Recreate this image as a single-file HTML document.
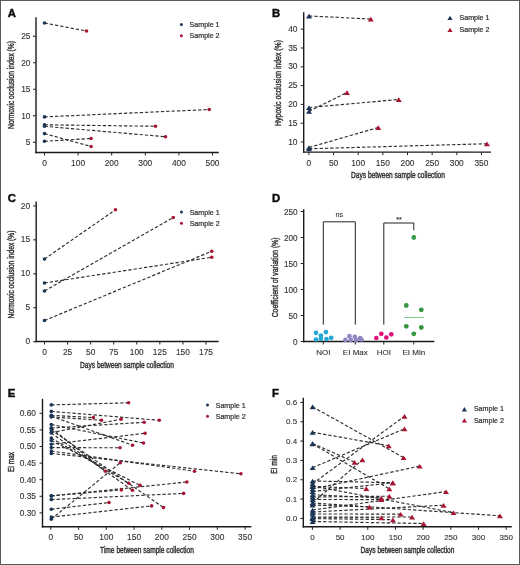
<!DOCTYPE html>
<html><head><meta charset="utf-8"><style>
html,body{margin:0;padding:0;background:#fff;}
body{width:520px;height:565px;overflow:hidden;}
svg{display:block;font-family:"Liberation Sans", sans-serif;}
</style></head><body>
<svg width="520" height="565" viewBox="0 0 520 565">
<defs><filter id="tb" x="-5%" y="-5%" width="110%" height="110%"><feGaussianBlur stdDeviation="0.28"/></filter></defs>
<rect x="0" y="0" width="520" height="565" fill="#fff"/>
<line x1="36.00" y1="17.30" x2="36.00" y2="153.20" stroke="#1a1a1a" stroke-width="1.4" />
<line x1="35.30" y1="152.50" x2="218.80" y2="152.50" stroke="#1a1a1a" stroke-width="1.4" />
<line x1="33.00" y1="142.25" x2="36.00" y2="142.25" stroke="#222" stroke-width="1" />
<line x1="33.00" y1="115.75" x2="36.00" y2="115.75" stroke="#222" stroke-width="1" />
<line x1="33.00" y1="89.25" x2="36.00" y2="89.25" stroke="#222" stroke-width="1" />
<line x1="33.00" y1="62.75" x2="36.00" y2="62.75" stroke="#222" stroke-width="1" />
<line x1="33.00" y1="36.25" x2="36.00" y2="36.25" stroke="#222" stroke-width="1" />
<line x1="44.50" y1="152.50" x2="44.50" y2="155.50" stroke="#222" stroke-width="1" />
<line x1="78.10" y1="152.50" x2="78.10" y2="155.50" stroke="#222" stroke-width="1" />
<line x1="111.70" y1="152.50" x2="111.70" y2="155.50" stroke="#222" stroke-width="1" />
<line x1="145.30" y1="152.50" x2="145.30" y2="155.50" stroke="#222" stroke-width="1" />
<line x1="178.90" y1="152.50" x2="178.90" y2="155.50" stroke="#222" stroke-width="1" />
<line x1="212.50" y1="152.50" x2="212.50" y2="155.50" stroke="#222" stroke-width="1" />
<line x1="44.50" y1="23.00" x2="86.50" y2="31.00" stroke="#2e2e2e" stroke-width="1.15" stroke-dasharray="3.3 2.0"/>
<line x1="44.50" y1="116.90" x2="209.25" y2="109.50" stroke="#2e2e2e" stroke-width="1.15" stroke-dasharray="3.3 2.0"/>
<line x1="44.50" y1="124.80" x2="155.50" y2="126.25" stroke="#2e2e2e" stroke-width="1.15" stroke-dasharray="3.3 2.0"/>
<line x1="44.50" y1="126.30" x2="165.50" y2="136.75" stroke="#2e2e2e" stroke-width="1.15" stroke-dasharray="3.3 2.0"/>
<line x1="44.50" y1="133.60" x2="91.10" y2="146.50" stroke="#2e2e2e" stroke-width="1.15" stroke-dasharray="3.3 2.0"/>
<line x1="44.50" y1="141.30" x2="91.10" y2="138.50" stroke="#2e2e2e" stroke-width="1.15" stroke-dasharray="3.3 2.0"/>
<circle cx="44.50" cy="23.00" r="1.8" fill="#1b3556"/>
<circle cx="86.50" cy="31.00" r="1.8" fill="#a81434"/>
<circle cx="44.50" cy="116.90" r="1.8" fill="#1b3556"/>
<circle cx="209.25" cy="109.50" r="1.8" fill="#a81434"/>
<circle cx="44.50" cy="124.80" r="1.8" fill="#1b3556"/>
<circle cx="155.50" cy="126.25" r="1.8" fill="#a81434"/>
<circle cx="44.50" cy="126.30" r="1.8" fill="#1b3556"/>
<circle cx="165.50" cy="136.75" r="1.8" fill="#a81434"/>
<circle cx="44.50" cy="133.60" r="1.8" fill="#1b3556"/>
<circle cx="91.10" cy="146.50" r="1.8" fill="#a81434"/>
<circle cx="44.50" cy="141.30" r="1.8" fill="#1b3556"/>
<circle cx="91.10" cy="138.50" r="1.8" fill="#a81434"/>
<circle cx="181.40" cy="24.60" r="1.5" fill="#1b3556"/>
<circle cx="181.40" cy="35.70" r="1.5" fill="#a81434"/>
<line x1="303.70" y1="12.20" x2="303.70" y2="152.80" stroke="#1a1a1a" stroke-width="1.4" />
<line x1="303.00" y1="152.10" x2="491.00" y2="152.10" stroke="#1a1a1a" stroke-width="1.4" />
<line x1="300.70" y1="142.00" x2="303.70" y2="142.00" stroke="#222" stroke-width="1" />
<line x1="300.70" y1="123.20" x2="303.70" y2="123.20" stroke="#222" stroke-width="1" />
<line x1="300.70" y1="104.40" x2="303.70" y2="104.40" stroke="#222" stroke-width="1" />
<line x1="300.70" y1="85.60" x2="303.70" y2="85.60" stroke="#222" stroke-width="1" />
<line x1="300.70" y1="66.80" x2="303.70" y2="66.80" stroke="#222" stroke-width="1" />
<line x1="300.70" y1="48.00" x2="303.70" y2="48.00" stroke="#222" stroke-width="1" />
<line x1="300.70" y1="29.20" x2="303.70" y2="29.20" stroke="#222" stroke-width="1" />
<line x1="308.90" y1="152.10" x2="308.90" y2="155.10" stroke="#222" stroke-width="1" />
<line x1="333.55" y1="152.10" x2="333.55" y2="155.10" stroke="#222" stroke-width="1" />
<line x1="358.20" y1="152.10" x2="358.20" y2="155.10" stroke="#222" stroke-width="1" />
<line x1="382.85" y1="152.10" x2="382.85" y2="155.10" stroke="#222" stroke-width="1" />
<line x1="407.50" y1="152.10" x2="407.50" y2="155.10" stroke="#222" stroke-width="1" />
<line x1="432.15" y1="152.10" x2="432.15" y2="155.10" stroke="#222" stroke-width="1" />
<line x1="456.80" y1="152.10" x2="456.80" y2="155.10" stroke="#222" stroke-width="1" />
<line x1="481.45" y1="152.10" x2="481.45" y2="155.10" stroke="#222" stroke-width="1" />
<line x1="309.00" y1="16.00" x2="370.75" y2="19.00" stroke="#2e2e2e" stroke-width="1.15" stroke-dasharray="3.3 2.0"/>
<line x1="309.00" y1="107.50" x2="398.75" y2="99.50" stroke="#2e2e2e" stroke-width="1.15" stroke-dasharray="3.3 2.0"/>
<line x1="309.00" y1="111.25" x2="347.00" y2="92.50" stroke="#2e2e2e" stroke-width="1.15" stroke-dasharray="3.3 2.0"/>
<line x1="309.00" y1="147.50" x2="378.25" y2="127.50" stroke="#2e2e2e" stroke-width="1.15" stroke-dasharray="3.3 2.0"/>
<line x1="309.00" y1="148.75" x2="487.00" y2="143.75" stroke="#2e2e2e" stroke-width="1.15" stroke-dasharray="3.3 2.0"/>
<path d="M309.00 13.80L312.00 18.50L306.00 18.50Z" fill="#1b3556"/>
<path d="M370.75 16.80L373.75 21.50L367.75 21.50Z" fill="#a81434"/>
<path d="M309.00 105.30L312.00 110.00L306.00 110.00Z" fill="#1b3556"/>
<path d="M398.75 97.30L401.75 102.00L395.75 102.00Z" fill="#a81434"/>
<path d="M309.00 109.05L312.00 113.75L306.00 113.75Z" fill="#1b3556"/>
<path d="M347.00 90.30L350.00 95.00L344.00 95.00Z" fill="#a81434"/>
<path d="M309.00 145.30L312.00 150.00L306.00 150.00Z" fill="#1b3556"/>
<path d="M378.25 125.30L381.25 130.00L375.25 130.00Z" fill="#a81434"/>
<path d="M309.00 146.55L312.00 151.25L306.00 151.25Z" fill="#1b3556"/>
<path d="M487.00 141.55L490.00 146.25L484.00 146.25Z" fill="#a81434"/>
<path d="M450.00 15.80L452.60 20.10L447.40 20.10Z" fill="#1b3556"/>
<path d="M450.00 27.80L452.60 32.10L447.40 32.10Z" fill="#a81434"/>
<line x1="36.20" y1="201.50" x2="36.20" y2="342.20" stroke="#1a1a1a" stroke-width="1.4" />
<line x1="35.50" y1="341.50" x2="218.60" y2="341.50" stroke="#1a1a1a" stroke-width="1.4" />
<line x1="33.20" y1="341.70" x2="36.20" y2="341.70" stroke="#222" stroke-width="1" />
<line x1="33.20" y1="307.75" x2="36.20" y2="307.75" stroke="#222" stroke-width="1" />
<line x1="33.20" y1="273.80" x2="36.20" y2="273.80" stroke="#222" stroke-width="1" />
<line x1="33.20" y1="239.85" x2="36.20" y2="239.85" stroke="#222" stroke-width="1" />
<line x1="33.20" y1="205.90" x2="36.20" y2="205.90" stroke="#222" stroke-width="1" />
<line x1="44.50" y1="341.50" x2="44.50" y2="344.50" stroke="#222" stroke-width="1" />
<line x1="67.57" y1="341.50" x2="67.57" y2="344.50" stroke="#222" stroke-width="1" />
<line x1="90.64" y1="341.50" x2="90.64" y2="344.50" stroke="#222" stroke-width="1" />
<line x1="113.71" y1="341.50" x2="113.71" y2="344.50" stroke="#222" stroke-width="1" />
<line x1="136.78" y1="341.50" x2="136.78" y2="344.50" stroke="#222" stroke-width="1" />
<line x1="159.85" y1="341.50" x2="159.85" y2="344.50" stroke="#222" stroke-width="1" />
<line x1="182.92" y1="341.50" x2="182.92" y2="344.50" stroke="#222" stroke-width="1" />
<line x1="205.99" y1="341.50" x2="205.99" y2="344.50" stroke="#222" stroke-width="1" />
<line x1="44.50" y1="259.00" x2="115.50" y2="209.75" stroke="#2e2e2e" stroke-width="1.15" stroke-dasharray="3.3 2.0"/>
<line x1="44.50" y1="291.00" x2="173.25" y2="217.50" stroke="#2e2e2e" stroke-width="1.15" stroke-dasharray="3.3 2.0"/>
<line x1="44.50" y1="283.00" x2="211.75" y2="257.25" stroke="#2e2e2e" stroke-width="1.15" stroke-dasharray="3.3 2.0"/>
<line x1="44.50" y1="320.50" x2="211.75" y2="251.25" stroke="#2e2e2e" stroke-width="1.15" stroke-dasharray="3.3 2.0"/>
<circle cx="44.50" cy="259.00" r="1.8" fill="#1b3556"/>
<circle cx="115.50" cy="209.75" r="1.8" fill="#a81434"/>
<circle cx="44.50" cy="291.00" r="1.8" fill="#1b3556"/>
<circle cx="173.25" cy="217.50" r="1.8" fill="#a81434"/>
<circle cx="44.50" cy="283.00" r="1.8" fill="#1b3556"/>
<circle cx="211.75" cy="257.25" r="1.8" fill="#a81434"/>
<circle cx="44.50" cy="320.50" r="1.8" fill="#1b3556"/>
<circle cx="211.75" cy="251.25" r="1.8" fill="#a81434"/>
<circle cx="181.45" cy="212.00" r="1.5" fill="#1b3556"/>
<circle cx="181.45" cy="223.25" r="1.5" fill="#a81434"/>
<line x1="303.70" y1="209.30" x2="303.70" y2="342.20" stroke="#1a1a1a" stroke-width="1.4" />
<line x1="303.00" y1="341.50" x2="434.30" y2="341.50" stroke="#1a1a1a" stroke-width="1.4" />
<line x1="300.70" y1="341.50" x2="303.70" y2="341.50" stroke="#222" stroke-width="1" />
<line x1="300.70" y1="315.50" x2="303.70" y2="315.50" stroke="#222" stroke-width="1" />
<line x1="300.70" y1="289.50" x2="303.70" y2="289.50" stroke="#222" stroke-width="1" />
<line x1="300.70" y1="263.50" x2="303.70" y2="263.50" stroke="#222" stroke-width="1" />
<line x1="300.70" y1="237.50" x2="303.70" y2="237.50" stroke="#222" stroke-width="1" />
<line x1="300.70" y1="211.50" x2="303.70" y2="211.50" stroke="#222" stroke-width="1" />
<line x1="323.30" y1="341.50" x2="323.30" y2="344.50" stroke="#222" stroke-width="1" />
<line x1="355.30" y1="341.50" x2="355.30" y2="344.50" stroke="#222" stroke-width="1" />
<line x1="383.80" y1="341.50" x2="383.80" y2="344.50" stroke="#222" stroke-width="1" />
<line x1="413.80" y1="341.50" x2="413.80" y2="344.50" stroke="#222" stroke-width="1" />
<path d="M323.3 324.6V221.8H355.3V324.6" fill="none" stroke="#222" stroke-width="1.0"/>
<path d="M383.8 324.6V223H413.8V230.3" fill="none" stroke="#222" stroke-width="1.0"/>
<circle cx="316.00" cy="332.80" r="2.35" fill="#22a7d6"/>
<circle cx="320.90" cy="335.50" r="2.35" fill="#22a7d6"/>
<circle cx="325.90" cy="332.10" r="2.35" fill="#22a7d6"/>
<circle cx="316.00" cy="339.50" r="2.35" fill="#22a7d6"/>
<circle cx="320.90" cy="338.80" r="2.35" fill="#22a7d6"/>
<circle cx="326.50" cy="339.10" r="2.35" fill="#22a7d6"/>
<circle cx="331.20" cy="337.80" r="2.35" fill="#22a7d6"/>
<circle cx="349.40" cy="336.20" r="2.35" fill="#8f86c2"/>
<circle cx="354.80" cy="336.80" r="2.35" fill="#8f86c2"/>
<circle cx="360.20" cy="338.20" r="2.35" fill="#8f86c2"/>
<circle cx="345.40" cy="339.90" r="2.35" fill="#8f86c2"/>
<circle cx="350.80" cy="339.90" r="2.35" fill="#8f86c2"/>
<circle cx="356.10" cy="340.20" r="2.35" fill="#8f86c2"/>
<circle cx="361.50" cy="339.50" r="2.35" fill="#8f86c2"/>
<circle cx="376.30" cy="338.00" r="2.35" fill="#e0127a"/>
<circle cx="381.30" cy="333.80" r="2.35" fill="#e0127a"/>
<circle cx="386.30" cy="337.50" r="2.35" fill="#e0127a"/>
<circle cx="391.30" cy="334.30" r="2.35" fill="#e0127a"/>
<circle cx="406.30" cy="305.50" r="2.4" fill="#34973f"/>
<circle cx="421.30" cy="309.80" r="2.4" fill="#34973f"/>
<circle cx="406.30" cy="326.30" r="2.4" fill="#34973f"/>
<circle cx="421.30" cy="327.50" r="2.4" fill="#34973f"/>
<circle cx="413.80" cy="333.80" r="2.4" fill="#34973f"/>
<line x1="404.30" y1="317.50" x2="423.80" y2="317.50" stroke="#7cc88a" stroke-width="1" />
<circle cx="413.8" cy="237.5" r="2.4" fill="#3a9e48"/>
<line x1="42.50" y1="398.80" x2="42.50" y2="527.50" stroke="#1a1a1a" stroke-width="1.4" />
<line x1="41.80" y1="526.80" x2="251.30" y2="526.80" stroke="#1a1a1a" stroke-width="1.4" />
<line x1="39.50" y1="512.90" x2="42.50" y2="512.90" stroke="#222" stroke-width="1" />
<line x1="39.50" y1="496.30" x2="42.50" y2="496.30" stroke="#222" stroke-width="1" />
<line x1="39.50" y1="479.70" x2="42.50" y2="479.70" stroke="#222" stroke-width="1" />
<line x1="39.50" y1="463.10" x2="42.50" y2="463.10" stroke="#222" stroke-width="1" />
<line x1="39.50" y1="446.50" x2="42.50" y2="446.50" stroke="#222" stroke-width="1" />
<line x1="39.50" y1="429.90" x2="42.50" y2="429.90" stroke="#222" stroke-width="1" />
<line x1="39.50" y1="413.30" x2="42.50" y2="413.30" stroke="#222" stroke-width="1" />
<line x1="50.80" y1="526.80" x2="50.80" y2="529.80" stroke="#222" stroke-width="1" />
<line x1="78.56" y1="526.80" x2="78.56" y2="529.80" stroke="#222" stroke-width="1" />
<line x1="106.31" y1="526.80" x2="106.31" y2="529.80" stroke="#222" stroke-width="1" />
<line x1="134.06" y1="526.80" x2="134.06" y2="529.80" stroke="#222" stroke-width="1" />
<line x1="161.82" y1="526.80" x2="161.82" y2="529.80" stroke="#222" stroke-width="1" />
<line x1="189.57" y1="526.80" x2="189.57" y2="529.80" stroke="#222" stroke-width="1" />
<line x1="217.33" y1="526.80" x2="217.33" y2="529.80" stroke="#222" stroke-width="1" />
<line x1="245.09" y1="526.80" x2="245.09" y2="529.80" stroke="#222" stroke-width="1" />
<line x1="51.30" y1="404.90" x2="128.60" y2="402.80" stroke="#2e2e2e" stroke-width="1.15" stroke-dasharray="3.3 2.0"/>
<line x1="51.30" y1="411.40" x2="159.30" y2="420.30" stroke="#2e2e2e" stroke-width="1.15" stroke-dasharray="3.3 2.0"/>
<line x1="51.30" y1="415.30" x2="93.40" y2="417.60" stroke="#2e2e2e" stroke-width="1.15" stroke-dasharray="3.3 2.0"/>
<line x1="51.30" y1="416.90" x2="101.50" y2="420.30" stroke="#2e2e2e" stroke-width="1.15" stroke-dasharray="3.3 2.0"/>
<line x1="51.30" y1="416.20" x2="132.50" y2="445.20" stroke="#2e2e2e" stroke-width="1.15" stroke-dasharray="3.3 2.0"/>
<line x1="51.30" y1="424.50" x2="143.50" y2="443.00" stroke="#2e2e2e" stroke-width="1.15" stroke-dasharray="3.3 2.0"/>
<line x1="51.30" y1="432.60" x2="121.10" y2="419.20" stroke="#2e2e2e" stroke-width="1.15" stroke-dasharray="3.3 2.0"/>
<line x1="51.30" y1="428.00" x2="144.20" y2="422.30" stroke="#2e2e2e" stroke-width="1.15" stroke-dasharray="3.3 2.0"/>
<line x1="51.30" y1="444.20" x2="145.00" y2="433.30" stroke="#2e2e2e" stroke-width="1.15" stroke-dasharray="3.3 2.0"/>
<line x1="51.30" y1="447.60" x2="120.00" y2="447.80" stroke="#2e2e2e" stroke-width="1.15" stroke-dasharray="3.3 2.0"/>
<line x1="51.30" y1="453.40" x2="240.90" y2="473.80" stroke="#2e2e2e" stroke-width="1.15" stroke-dasharray="3.3 2.0"/>
<line x1="51.30" y1="451.00" x2="194.50" y2="471.20" stroke="#2e2e2e" stroke-width="1.15" stroke-dasharray="3.3 2.0"/>
<line x1="51.30" y1="428.00" x2="105.40" y2="471.30" stroke="#2e2e2e" stroke-width="1.15" stroke-dasharray="3.3 2.0"/>
<line x1="51.30" y1="430.00" x2="163.50" y2="507.50" stroke="#2e2e2e" stroke-width="1.15" stroke-dasharray="3.3 2.0"/>
<line x1="51.30" y1="433.00" x2="132.50" y2="490.30" stroke="#2e2e2e" stroke-width="1.15" stroke-dasharray="3.3 2.0"/>
<line x1="51.30" y1="438.00" x2="128.80" y2="483.30" stroke="#2e2e2e" stroke-width="1.15" stroke-dasharray="3.3 2.0"/>
<line x1="51.30" y1="440.50" x2="140.10" y2="485.40" stroke="#2e2e2e" stroke-width="1.15" stroke-dasharray="3.3 2.0"/>
<line x1="51.30" y1="495.90" x2="121.30" y2="489.90" stroke="#2e2e2e" stroke-width="1.15" stroke-dasharray="3.3 2.0"/>
<line x1="51.30" y1="495.90" x2="186.90" y2="482.00" stroke="#2e2e2e" stroke-width="1.15" stroke-dasharray="3.3 2.0"/>
<line x1="51.30" y1="499.60" x2="183.60" y2="493.40" stroke="#2e2e2e" stroke-width="1.15" stroke-dasharray="3.3 2.0"/>
<line x1="51.30" y1="509.20" x2="109.00" y2="502.50" stroke="#2e2e2e" stroke-width="1.15" stroke-dasharray="3.3 2.0"/>
<line x1="51.30" y1="517.10" x2="151.60" y2="505.90" stroke="#2e2e2e" stroke-width="1.15" stroke-dasharray="3.3 2.0"/>
<line x1="51.30" y1="519.20" x2="120.30" y2="462.70" stroke="#2e2e2e" stroke-width="1.15" stroke-dasharray="3.3 2.0"/>
<circle cx="51.30" cy="404.90" r="1.8" fill="#1b3556"/>
<circle cx="128.60" cy="402.80" r="1.8" fill="#a81434"/>
<circle cx="51.30" cy="411.40" r="1.8" fill="#1b3556"/>
<circle cx="159.30" cy="420.30" r="1.8" fill="#a81434"/>
<circle cx="51.30" cy="415.30" r="1.8" fill="#1b3556"/>
<circle cx="93.40" cy="417.60" r="1.8" fill="#a81434"/>
<circle cx="51.30" cy="416.90" r="1.8" fill="#1b3556"/>
<circle cx="101.50" cy="420.30" r="1.8" fill="#a81434"/>
<circle cx="51.30" cy="416.20" r="1.8" fill="#1b3556"/>
<circle cx="132.50" cy="445.20" r="1.8" fill="#a81434"/>
<circle cx="51.30" cy="424.50" r="1.8" fill="#1b3556"/>
<circle cx="143.50" cy="443.00" r="1.8" fill="#a81434"/>
<circle cx="51.30" cy="432.60" r="1.8" fill="#1b3556"/>
<circle cx="121.10" cy="419.20" r="1.8" fill="#a81434"/>
<circle cx="51.30" cy="428.00" r="1.8" fill="#1b3556"/>
<circle cx="144.20" cy="422.30" r="1.8" fill="#a81434"/>
<circle cx="51.30" cy="444.20" r="1.8" fill="#1b3556"/>
<circle cx="145.00" cy="433.30" r="1.8" fill="#a81434"/>
<circle cx="51.30" cy="447.60" r="1.8" fill="#1b3556"/>
<circle cx="120.00" cy="447.80" r="1.8" fill="#a81434"/>
<circle cx="51.30" cy="453.40" r="1.8" fill="#1b3556"/>
<circle cx="240.90" cy="473.80" r="1.8" fill="#a81434"/>
<circle cx="51.30" cy="451.00" r="1.8" fill="#1b3556"/>
<circle cx="194.50" cy="471.20" r="1.8" fill="#a81434"/>
<circle cx="51.30" cy="428.00" r="1.8" fill="#1b3556"/>
<circle cx="105.40" cy="471.30" r="1.8" fill="#a81434"/>
<circle cx="51.30" cy="430.00" r="1.8" fill="#1b3556"/>
<circle cx="163.50" cy="507.50" r="1.8" fill="#a81434"/>
<circle cx="51.30" cy="433.00" r="1.8" fill="#1b3556"/>
<circle cx="132.50" cy="490.30" r="1.8" fill="#a81434"/>
<circle cx="51.30" cy="438.00" r="1.8" fill="#1b3556"/>
<circle cx="128.80" cy="483.30" r="1.8" fill="#a81434"/>
<circle cx="51.30" cy="440.50" r="1.8" fill="#1b3556"/>
<circle cx="140.10" cy="485.40" r="1.8" fill="#a81434"/>
<circle cx="51.30" cy="495.90" r="1.8" fill="#1b3556"/>
<circle cx="121.30" cy="489.90" r="1.8" fill="#a81434"/>
<circle cx="51.30" cy="495.90" r="1.8" fill="#1b3556"/>
<circle cx="186.90" cy="482.00" r="1.8" fill="#a81434"/>
<circle cx="51.30" cy="499.60" r="1.8" fill="#1b3556"/>
<circle cx="183.60" cy="493.40" r="1.8" fill="#a81434"/>
<circle cx="51.30" cy="509.20" r="1.8" fill="#1b3556"/>
<circle cx="109.00" cy="502.50" r="1.8" fill="#a81434"/>
<circle cx="51.30" cy="517.10" r="1.8" fill="#1b3556"/>
<circle cx="151.60" cy="505.90" r="1.8" fill="#a81434"/>
<circle cx="51.30" cy="519.20" r="1.8" fill="#1b3556"/>
<circle cx="120.30" cy="462.70" r="1.8" fill="#a81434"/>
<circle cx="207.50" cy="405.10" r="1.5" fill="#1b3556"/>
<circle cx="207.50" cy="416.20" r="1.5" fill="#a81434"/>
<line x1="303.30" y1="397.70" x2="303.30" y2="527.50" stroke="#1a1a1a" stroke-width="1.4" />
<line x1="302.60" y1="526.80" x2="511.80" y2="526.80" stroke="#1a1a1a" stroke-width="1.4" />
<line x1="300.30" y1="518.40" x2="303.30" y2="518.40" stroke="#222" stroke-width="1" />
<line x1="300.30" y1="499.07" x2="303.30" y2="499.07" stroke="#222" stroke-width="1" />
<line x1="300.30" y1="479.74" x2="303.30" y2="479.74" stroke="#222" stroke-width="1" />
<line x1="300.30" y1="460.41" x2="303.30" y2="460.41" stroke="#222" stroke-width="1" />
<line x1="300.30" y1="441.08" x2="303.30" y2="441.08" stroke="#222" stroke-width="1" />
<line x1="300.30" y1="421.75" x2="303.30" y2="421.75" stroke="#222" stroke-width="1" />
<line x1="300.30" y1="402.42" x2="303.30" y2="402.42" stroke="#222" stroke-width="1" />
<line x1="312.40" y1="526.80" x2="312.40" y2="529.80" stroke="#222" stroke-width="1" />
<line x1="340.08" y1="526.80" x2="340.08" y2="529.80" stroke="#222" stroke-width="1" />
<line x1="367.77" y1="526.80" x2="367.77" y2="529.80" stroke="#222" stroke-width="1" />
<line x1="395.45" y1="526.80" x2="395.45" y2="529.80" stroke="#222" stroke-width="1" />
<line x1="423.14" y1="526.80" x2="423.14" y2="529.80" stroke="#222" stroke-width="1" />
<line x1="450.82" y1="526.80" x2="450.82" y2="529.80" stroke="#222" stroke-width="1" />
<line x1="478.51" y1="526.80" x2="478.51" y2="529.80" stroke="#222" stroke-width="1" />
<line x1="506.19" y1="526.80" x2="506.19" y2="529.80" stroke="#222" stroke-width="1" />
<line x1="312.60" y1="483.70" x2="404.50" y2="416.20" stroke="#2e2e2e" stroke-width="1.15" stroke-dasharray="3.3 2.0"/>
<line x1="312.60" y1="467.60" x2="404.50" y2="428.80" stroke="#2e2e2e" stroke-width="1.15" stroke-dasharray="3.3 2.0"/>
<line x1="312.60" y1="432.20" x2="388.80" y2="445.80" stroke="#2e2e2e" stroke-width="1.15" stroke-dasharray="3.3 2.0"/>
<line x1="312.60" y1="406.80" x2="403.60" y2="457.60" stroke="#2e2e2e" stroke-width="1.15" stroke-dasharray="3.3 2.0"/>
<line x1="312.60" y1="443.40" x2="354.60" y2="462.20" stroke="#2e2e2e" stroke-width="1.15" stroke-dasharray="3.3 2.0"/>
<line x1="312.60" y1="502.90" x2="362.40" y2="459.80" stroke="#2e2e2e" stroke-width="1.15" stroke-dasharray="3.3 2.0"/>
<line x1="312.60" y1="489.00" x2="419.70" y2="466.10" stroke="#2e2e2e" stroke-width="1.15" stroke-dasharray="3.3 2.0"/>
<line x1="312.60" y1="486.50" x2="366.30" y2="488.50" stroke="#2e2e2e" stroke-width="1.15" stroke-dasharray="3.3 2.0"/>
<line x1="312.60" y1="443.80" x2="389.30" y2="488.80" stroke="#2e2e2e" stroke-width="1.15" stroke-dasharray="3.3 2.0"/>
<line x1="312.60" y1="481.00" x2="392.80" y2="482.70" stroke="#2e2e2e" stroke-width="1.15" stroke-dasharray="3.3 2.0"/>
<line x1="312.60" y1="494.80" x2="381.20" y2="498.00" stroke="#2e2e2e" stroke-width="1.15" stroke-dasharray="3.3 2.0"/>
<line x1="312.60" y1="499.50" x2="381.40" y2="499.60" stroke="#2e2e2e" stroke-width="1.15" stroke-dasharray="3.3 2.0"/>
<line x1="312.60" y1="497.00" x2="389.40" y2="496.20" stroke="#2e2e2e" stroke-width="1.15" stroke-dasharray="3.3 2.0"/>
<line x1="312.60" y1="510.00" x2="446.00" y2="491.60" stroke="#2e2e2e" stroke-width="1.15" stroke-dasharray="3.3 2.0"/>
<line x1="312.60" y1="505.00" x2="369.50" y2="507.00" stroke="#2e2e2e" stroke-width="1.15" stroke-dasharray="3.3 2.0"/>
<line x1="312.60" y1="512.00" x2="443.60" y2="505.20" stroke="#2e2e2e" stroke-width="1.15" stroke-dasharray="3.3 2.0"/>
<line x1="312.60" y1="517.70" x2="381.40" y2="517.70" stroke="#2e2e2e" stroke-width="1.15" stroke-dasharray="3.3 2.0"/>
<line x1="312.60" y1="518.60" x2="392.90" y2="519.70" stroke="#2e2e2e" stroke-width="1.15" stroke-dasharray="3.3 2.0"/>
<line x1="312.60" y1="514.00" x2="400.70" y2="514.10" stroke="#2e2e2e" stroke-width="1.15" stroke-dasharray="3.3 2.0"/>
<line x1="312.60" y1="517.00" x2="412.10" y2="517.00" stroke="#2e2e2e" stroke-width="1.15" stroke-dasharray="3.3 2.0"/>
<line x1="312.60" y1="486.00" x2="453.50" y2="512.60" stroke="#2e2e2e" stroke-width="1.15" stroke-dasharray="3.3 2.0"/>
<line x1="312.60" y1="503.00" x2="500.00" y2="515.80" stroke="#2e2e2e" stroke-width="1.15" stroke-dasharray="3.3 2.0"/>
<line x1="312.60" y1="521.50" x2="423.60" y2="523.50" stroke="#2e2e2e" stroke-width="1.15" stroke-dasharray="3.3 2.0"/>
<line x1="312.60" y1="491.50" x2="392.80" y2="482.70" stroke="#2e2e2e" stroke-width="1.15" stroke-dasharray="3.3 2.0"/>
<path d="M312.60 481.50L315.60 486.20L309.60 486.20Z" fill="#1b3556"/>
<path d="M404.50 414.00L407.50 418.70L401.50 418.70Z" fill="#a81434"/>
<path d="M312.60 465.40L315.60 470.10L309.60 470.10Z" fill="#1b3556"/>
<path d="M404.50 426.60L407.50 431.30L401.50 431.30Z" fill="#a81434"/>
<path d="M312.60 430.00L315.60 434.70L309.60 434.70Z" fill="#1b3556"/>
<path d="M388.80 443.60L391.80 448.30L385.80 448.30Z" fill="#a81434"/>
<path d="M312.60 404.60L315.60 409.30L309.60 409.30Z" fill="#1b3556"/>
<path d="M403.60 455.40L406.60 460.10L400.60 460.10Z" fill="#a81434"/>
<path d="M312.60 441.20L315.60 445.90L309.60 445.90Z" fill="#1b3556"/>
<path d="M354.60 460.00L357.60 464.70L351.60 464.70Z" fill="#a81434"/>
<path d="M312.60 500.70L315.60 505.40L309.60 505.40Z" fill="#1b3556"/>
<path d="M362.40 457.60L365.40 462.30L359.40 462.30Z" fill="#a81434"/>
<path d="M312.60 486.80L315.60 491.50L309.60 491.50Z" fill="#1b3556"/>
<path d="M419.70 463.90L422.70 468.60L416.70 468.60Z" fill="#a81434"/>
<path d="M312.60 484.30L315.60 489.00L309.60 489.00Z" fill="#1b3556"/>
<path d="M366.30 486.30L369.30 491.00L363.30 491.00Z" fill="#a81434"/>
<path d="M312.60 441.60L315.60 446.30L309.60 446.30Z" fill="#1b3556"/>
<path d="M389.30 486.60L392.30 491.30L386.30 491.30Z" fill="#a81434"/>
<path d="M312.60 478.80L315.60 483.50L309.60 483.50Z" fill="#1b3556"/>
<path d="M392.80 480.50L395.80 485.20L389.80 485.20Z" fill="#a81434"/>
<path d="M312.60 492.60L315.60 497.30L309.60 497.30Z" fill="#1b3556"/>
<path d="M381.20 495.80L384.20 500.50L378.20 500.50Z" fill="#a81434"/>
<path d="M312.60 497.30L315.60 502.00L309.60 502.00Z" fill="#1b3556"/>
<path d="M381.40 497.40L384.40 502.10L378.40 502.10Z" fill="#a81434"/>
<path d="M312.60 494.80L315.60 499.50L309.60 499.50Z" fill="#1b3556"/>
<path d="M389.40 494.00L392.40 498.70L386.40 498.70Z" fill="#a81434"/>
<path d="M312.60 507.80L315.60 512.50L309.60 512.50Z" fill="#1b3556"/>
<path d="M446.00 489.40L449.00 494.10L443.00 494.10Z" fill="#a81434"/>
<path d="M312.60 502.80L315.60 507.50L309.60 507.50Z" fill="#1b3556"/>
<path d="M369.50 504.80L372.50 509.50L366.50 509.50Z" fill="#a81434"/>
<path d="M312.60 509.80L315.60 514.50L309.60 514.50Z" fill="#1b3556"/>
<path d="M443.60 503.00L446.60 507.70L440.60 507.70Z" fill="#a81434"/>
<path d="M312.60 515.50L315.60 520.20L309.60 520.20Z" fill="#1b3556"/>
<path d="M381.40 515.50L384.40 520.20L378.40 520.20Z" fill="#a81434"/>
<path d="M312.60 516.40L315.60 521.10L309.60 521.10Z" fill="#1b3556"/>
<path d="M392.90 517.50L395.90 522.20L389.90 522.20Z" fill="#a81434"/>
<path d="M312.60 511.80L315.60 516.50L309.60 516.50Z" fill="#1b3556"/>
<path d="M400.70 511.90L403.70 516.60L397.70 516.60Z" fill="#a81434"/>
<path d="M312.60 514.80L315.60 519.50L309.60 519.50Z" fill="#1b3556"/>
<path d="M412.10 514.80L415.10 519.50L409.10 519.50Z" fill="#a81434"/>
<path d="M312.60 483.80L315.60 488.50L309.60 488.50Z" fill="#1b3556"/>
<path d="M453.50 510.40L456.50 515.10L450.50 515.10Z" fill="#a81434"/>
<path d="M312.60 500.80L315.60 505.50L309.60 505.50Z" fill="#1b3556"/>
<path d="M500.00 513.60L503.00 518.30L497.00 518.30Z" fill="#a81434"/>
<path d="M312.60 519.30L315.60 524.00L309.60 524.00Z" fill="#1b3556"/>
<path d="M423.60 521.30L426.60 526.00L420.60 526.00Z" fill="#a81434"/>
<path d="M312.60 489.30L315.60 494.00L309.60 494.00Z" fill="#1b3556"/>
<path d="M392.80 480.50L395.80 485.20L389.80 485.20Z" fill="#a81434"/>
<path d="M464.40 407.10L467.00 411.40L461.80 411.40Z" fill="#1b3556"/>
<path d="M464.40 418.30L467.00 422.60L461.80 422.60Z" fill="#a81434"/>
<g filter="url(#tb)">
<text x="7.70" y="16.90" font-size="11.3" text-anchor="start" font-weight="bold" fill="#111" stroke="#111" stroke-width="0.45" >A</text>
<text x="30.50" y="145.45" font-size="8.4" text-anchor="end" font-weight="normal" fill="#333" stroke="#333" stroke-width="0.12" >5</text>
<text x="30.50" y="118.95" font-size="8.4" text-anchor="end" font-weight="normal" fill="#333" stroke="#333" stroke-width="0.12" >10</text>
<text x="30.50" y="92.45" font-size="8.4" text-anchor="end" font-weight="normal" fill="#333" stroke="#333" stroke-width="0.12" >15</text>
<text x="30.50" y="65.95" font-size="8.4" text-anchor="end" font-weight="normal" fill="#333" stroke="#333" stroke-width="0.12" >20</text>
<text x="30.50" y="39.45" font-size="8.4" text-anchor="end" font-weight="normal" fill="#333" stroke="#333" stroke-width="0.12" >25</text>
<text x="44.50" y="166.00" font-size="8.4" text-anchor="middle" font-weight="normal" fill="#333" stroke="#333" stroke-width="0.12" >0</text>
<text x="78.10" y="166.00" font-size="8.4" text-anchor="middle" font-weight="normal" fill="#333" stroke="#333" stroke-width="0.12" >100</text>
<text x="111.70" y="166.00" font-size="8.4" text-anchor="middle" font-weight="normal" fill="#333" stroke="#333" stroke-width="0.12" >200</text>
<text x="145.30" y="166.00" font-size="8.4" text-anchor="middle" font-weight="normal" fill="#333" stroke="#333" stroke-width="0.12" >300</text>
<text x="178.90" y="166.00" font-size="8.4" text-anchor="middle" font-weight="normal" fill="#333" stroke="#333" stroke-width="0.12" >400</text>
<text x="212.50" y="166.00" font-size="8.4" text-anchor="middle" font-weight="normal" fill="#333" stroke="#333" stroke-width="0.12" >500</text>
<text transform="translate(13.70 85.00) rotate(-90) scale(0.7507 1)" x="0" y="0" font-size="8.9" text-anchor="middle" fill="#333" stroke="#333" stroke-width="0.42">Normoxic occlusion index (%)</text>
<text x="189.60" y="27.20" font-size="7.1" text-anchor="start" font-weight="normal" fill="#333" stroke="#333" stroke-width="0.22" >Sample 1</text>
<text x="189.60" y="38.30" font-size="7.1" text-anchor="start" font-weight="normal" fill="#333" stroke="#333" stroke-width="0.22" >Sample 2</text>
<text x="272.00" y="16.90" font-size="11.3" text-anchor="start" font-weight="bold" fill="#111" stroke="#111" stroke-width="0.45" >B</text>
<text x="297.50" y="144.60" font-size="8.4" text-anchor="end" font-weight="normal" fill="#333" stroke="#333" stroke-width="0.12" >10</text>
<text x="297.50" y="125.80" font-size="8.4" text-anchor="end" font-weight="normal" fill="#333" stroke="#333" stroke-width="0.12" >15</text>
<text x="297.50" y="107.00" font-size="8.4" text-anchor="end" font-weight="normal" fill="#333" stroke="#333" stroke-width="0.12" >20</text>
<text x="297.50" y="88.20" font-size="8.4" text-anchor="end" font-weight="normal" fill="#333" stroke="#333" stroke-width="0.12" >25</text>
<text x="297.50" y="69.40" font-size="8.4" text-anchor="end" font-weight="normal" fill="#333" stroke="#333" stroke-width="0.12" >30</text>
<text x="297.50" y="50.60" font-size="8.4" text-anchor="end" font-weight="normal" fill="#333" stroke="#333" stroke-width="0.12" >35</text>
<text x="297.50" y="31.80" font-size="8.4" text-anchor="end" font-weight="normal" fill="#333" stroke="#333" stroke-width="0.12" >40</text>
<text x="308.90" y="165.60" font-size="8.4" text-anchor="middle" font-weight="normal" fill="#333" stroke="#333" stroke-width="0.12" >0</text>
<text x="333.55" y="165.60" font-size="8.4" text-anchor="middle" font-weight="normal" fill="#333" stroke="#333" stroke-width="0.12" >50</text>
<text x="358.20" y="165.60" font-size="8.4" text-anchor="middle" font-weight="normal" fill="#333" stroke="#333" stroke-width="0.12" >100</text>
<text x="382.85" y="165.60" font-size="8.4" text-anchor="middle" font-weight="normal" fill="#333" stroke="#333" stroke-width="0.12" >150</text>
<text x="407.50" y="165.60" font-size="8.4" text-anchor="middle" font-weight="normal" fill="#333" stroke="#333" stroke-width="0.12" >200</text>
<text x="432.15" y="165.60" font-size="8.4" text-anchor="middle" font-weight="normal" fill="#333" stroke="#333" stroke-width="0.12" >250</text>
<text x="456.80" y="165.60" font-size="8.4" text-anchor="middle" font-weight="normal" fill="#333" stroke="#333" stroke-width="0.12" >300</text>
<text x="481.45" y="165.60" font-size="8.4" text-anchor="middle" font-weight="normal" fill="#333" stroke="#333" stroke-width="0.12" >350</text>
<text transform="translate(281.10 83.00) rotate(-90) scale(0.7727 1)" x="0" y="0" font-size="8.9" text-anchor="middle" fill="#333" stroke="#333" stroke-width="0.42">Hypoxic occlusion index (%)</text>
<text transform="translate(398.00 177.50) scale(0.7393 1)" x="0" y="0" font-size="8.9" text-anchor="middle" fill="#333" stroke="#333" stroke-width="0.42">Days between sample collection</text>
<text x="459.50" y="20.00" font-size="7.1" text-anchor="start" font-weight="normal" fill="#333" stroke="#333" stroke-width="0.22" >Sample 1</text>
<text x="459.50" y="32.00" font-size="7.1" text-anchor="start" font-weight="normal" fill="#333" stroke="#333" stroke-width="0.22" >Sample 2</text>
<text x="7.70" y="202.30" font-size="11.3" text-anchor="start" font-weight="bold" fill="#111" stroke="#111" stroke-width="0.45" >C</text>
<text x="30.10" y="344.30" font-size="8.4" text-anchor="end" font-weight="normal" fill="#333" stroke="#333" stroke-width="0.12" >0</text>
<text x="30.10" y="310.35" font-size="8.4" text-anchor="end" font-weight="normal" fill="#333" stroke="#333" stroke-width="0.12" >5</text>
<text x="30.10" y="276.40" font-size="8.4" text-anchor="end" font-weight="normal" fill="#333" stroke="#333" stroke-width="0.12" >10</text>
<text x="30.10" y="242.45" font-size="8.4" text-anchor="end" font-weight="normal" fill="#333" stroke="#333" stroke-width="0.12" >15</text>
<text x="30.10" y="208.50" font-size="8.4" text-anchor="end" font-weight="normal" fill="#333" stroke="#333" stroke-width="0.12" >20</text>
<text x="44.50" y="355.00" font-size="8.4" text-anchor="middle" font-weight="normal" fill="#333" stroke="#333" stroke-width="0.12" >0</text>
<text x="67.57" y="355.00" font-size="8.4" text-anchor="middle" font-weight="normal" fill="#333" stroke="#333" stroke-width="0.12" >25</text>
<text x="90.64" y="355.00" font-size="8.4" text-anchor="middle" font-weight="normal" fill="#333" stroke="#333" stroke-width="0.12" >50</text>
<text x="113.71" y="355.00" font-size="8.4" text-anchor="middle" font-weight="normal" fill="#333" stroke="#333" stroke-width="0.12" >75</text>
<text x="136.78" y="355.00" font-size="8.4" text-anchor="middle" font-weight="normal" fill="#333" stroke="#333" stroke-width="0.12" >100</text>
<text x="159.85" y="355.00" font-size="8.4" text-anchor="middle" font-weight="normal" fill="#333" stroke="#333" stroke-width="0.12" >125</text>
<text x="182.92" y="355.00" font-size="8.4" text-anchor="middle" font-weight="normal" fill="#333" stroke="#333" stroke-width="0.12" >150</text>
<text x="205.99" y="355.00" font-size="8.4" text-anchor="middle" font-weight="normal" fill="#333" stroke="#333" stroke-width="0.12" >175</text>
<text transform="translate(13.70 274.50) rotate(-90) scale(0.7507 1)" x="0" y="0" font-size="8.9" text-anchor="middle" fill="#333" stroke="#333" stroke-width="0.42">Normoxic occlusion index (%)</text>
<text transform="translate(127.00 367.70) scale(0.7393 1)" x="0" y="0" font-size="8.9" text-anchor="middle" fill="#333" stroke="#333" stroke-width="0.42">Days between sample collection</text>
<text x="189.65" y="214.60" font-size="7.1" text-anchor="start" font-weight="normal" fill="#333" stroke="#333" stroke-width="0.22" >Sample 1</text>
<text x="189.65" y="225.85" font-size="7.1" text-anchor="start" font-weight="normal" fill="#333" stroke="#333" stroke-width="0.22" >Sample 2</text>
<text x="272.00" y="202.30" font-size="11.3" text-anchor="start" font-weight="bold" fill="#111" stroke="#111" stroke-width="0.45" >D</text>
<text x="297.60" y="344.70" font-size="8.2" text-anchor="end" font-weight="normal" fill="#333" stroke="#333" stroke-width="0.12" >0</text>
<text x="297.60" y="318.70" font-size="8.2" text-anchor="end" font-weight="normal" fill="#333" stroke="#333" stroke-width="0.12" >50</text>
<text x="297.60" y="292.70" font-size="8.2" text-anchor="end" font-weight="normal" fill="#333" stroke="#333" stroke-width="0.12" >100</text>
<text x="297.60" y="266.70" font-size="8.2" text-anchor="end" font-weight="normal" fill="#333" stroke="#333" stroke-width="0.12" >150</text>
<text x="297.60" y="240.70" font-size="8.2" text-anchor="end" font-weight="normal" fill="#333" stroke="#333" stroke-width="0.12" >200</text>
<text x="297.60" y="214.70" font-size="8.2" text-anchor="end" font-weight="normal" fill="#333" stroke="#333" stroke-width="0.12" >250</text>
<text x="323.30" y="354.80" font-size="8" text-anchor="middle" font-weight="normal" fill="#333" stroke="#333" stroke-width="0.12" >NOI</text>
<text x="355.30" y="354.80" font-size="8" text-anchor="middle" font-weight="normal" fill="#333" stroke="#333" stroke-width="0.12" >EI Max</text>
<text x="383.80" y="354.80" font-size="8" text-anchor="middle" font-weight="normal" fill="#333" stroke="#333" stroke-width="0.12" >HOI</text>
<text x="413.80" y="354.80" font-size="8" text-anchor="middle" font-weight="normal" fill="#333" stroke="#333" stroke-width="0.12" >EI Min</text>
<text transform="translate(277.90 277.40) rotate(-90) scale(0.7677 1)" x="0" y="0" font-size="8.9" text-anchor="middle" fill="#333" stroke="#333" stroke-width="0.42">Coefficient of variation (%)</text>
<text x="339.30" y="216.80" font-size="7.2" text-anchor="middle" font-weight="normal" fill="#333" stroke="#333" stroke-width="0.1" >ns</text>
<text x="398.90" y="222.30" font-size="7" text-anchor="middle" font-weight="normal" fill="#333" stroke="#333" stroke-width="0.15" >**</text>
<text x="7.70" y="397.30" font-size="11.3" text-anchor="start" font-weight="bold" fill="#111" stroke="#111" stroke-width="0.45" >E</text>
<text x="36.00" y="515.80" font-size="8.4" text-anchor="end" font-weight="normal" fill="#333" stroke="#333" stroke-width="0.12" >0.30</text>
<text x="36.00" y="499.20" font-size="8.4" text-anchor="end" font-weight="normal" fill="#333" stroke="#333" stroke-width="0.12" >0.35</text>
<text x="36.00" y="482.60" font-size="8.4" text-anchor="end" font-weight="normal" fill="#333" stroke="#333" stroke-width="0.12" >0.40</text>
<text x="36.00" y="466.00" font-size="8.4" text-anchor="end" font-weight="normal" fill="#333" stroke="#333" stroke-width="0.12" >0.45</text>
<text x="36.00" y="449.40" font-size="8.4" text-anchor="end" font-weight="normal" fill="#333" stroke="#333" stroke-width="0.12" >0.50</text>
<text x="36.00" y="432.80" font-size="8.4" text-anchor="end" font-weight="normal" fill="#333" stroke="#333" stroke-width="0.12" >0.55</text>
<text x="36.00" y="416.20" font-size="8.4" text-anchor="end" font-weight="normal" fill="#333" stroke="#333" stroke-width="0.12" >0.60</text>
<text x="50.80" y="540.30" font-size="8.4" text-anchor="middle" font-weight="normal" fill="#333" stroke="#333" stroke-width="0.12" >0</text>
<text x="78.56" y="540.30" font-size="8.4" text-anchor="middle" font-weight="normal" fill="#333" stroke="#333" stroke-width="0.12" >50</text>
<text x="106.31" y="540.30" font-size="8.4" text-anchor="middle" font-weight="normal" fill="#333" stroke="#333" stroke-width="0.12" >100</text>
<text x="134.06" y="540.30" font-size="8.4" text-anchor="middle" font-weight="normal" fill="#333" stroke="#333" stroke-width="0.12" >150</text>
<text x="161.82" y="540.30" font-size="8.4" text-anchor="middle" font-weight="normal" fill="#333" stroke="#333" stroke-width="0.12" >200</text>
<text x="189.57" y="540.30" font-size="8.4" text-anchor="middle" font-weight="normal" fill="#333" stroke="#333" stroke-width="0.12" >250</text>
<text x="217.33" y="540.30" font-size="8.4" text-anchor="middle" font-weight="normal" fill="#333" stroke="#333" stroke-width="0.12" >300</text>
<text x="245.09" y="540.30" font-size="8.4" text-anchor="middle" font-weight="normal" fill="#333" stroke="#333" stroke-width="0.12" >350</text>
<text transform="translate(13.70 462.00) rotate(-90) scale(0.7221 1)" x="0" y="0" font-size="8.9" text-anchor="middle" fill="#333" stroke="#333" stroke-width="0.42">EI max</text>
<text transform="translate(147.00 553.00) scale(0.7442 1)" x="0" y="0" font-size="8.9" text-anchor="middle" fill="#333" stroke="#333" stroke-width="0.42">Time between sample collection</text>
<text x="215.70" y="407.70" font-size="7.1" text-anchor="start" font-weight="normal" fill="#333" stroke="#333" stroke-width="0.22" >Sample 1</text>
<text x="215.70" y="418.80" font-size="7.1" text-anchor="start" font-weight="normal" fill="#333" stroke="#333" stroke-width="0.22" >Sample 2</text>
<text x="272.00" y="397.30" font-size="11.3" text-anchor="start" font-weight="bold" fill="#111" stroke="#111" stroke-width="0.45" >F</text>
<text x="297.10" y="521.00" font-size="8.0" text-anchor="end" font-weight="normal" fill="#333" stroke="#333" stroke-width="0.12" >0.0</text>
<text x="297.10" y="501.67" font-size="8.0" text-anchor="end" font-weight="normal" fill="#333" stroke="#333" stroke-width="0.12" >0.1</text>
<text x="297.10" y="482.34" font-size="8.0" text-anchor="end" font-weight="normal" fill="#333" stroke="#333" stroke-width="0.12" >0.2</text>
<text x="297.10" y="463.01" font-size="8.0" text-anchor="end" font-weight="normal" fill="#333" stroke="#333" stroke-width="0.12" >0.3</text>
<text x="297.10" y="443.68" font-size="8.0" text-anchor="end" font-weight="normal" fill="#333" stroke="#333" stroke-width="0.12" >0.4</text>
<text x="297.10" y="424.35" font-size="8.0" text-anchor="end" font-weight="normal" fill="#333" stroke="#333" stroke-width="0.12" >0.5</text>
<text x="297.10" y="405.02" font-size="8.0" text-anchor="end" font-weight="normal" fill="#333" stroke="#333" stroke-width="0.12" >0.6</text>
<text x="312.40" y="540.30" font-size="8.0" text-anchor="middle" font-weight="normal" fill="#333" stroke="#333" stroke-width="0.12" >0</text>
<text x="340.08" y="540.30" font-size="8.0" text-anchor="middle" font-weight="normal" fill="#333" stroke="#333" stroke-width="0.12" >50</text>
<text x="367.77" y="540.30" font-size="8.0" text-anchor="middle" font-weight="normal" fill="#333" stroke="#333" stroke-width="0.12" >100</text>
<text x="395.45" y="540.30" font-size="8.0" text-anchor="middle" font-weight="normal" fill="#333" stroke="#333" stroke-width="0.12" >150</text>
<text x="423.14" y="540.30" font-size="8.0" text-anchor="middle" font-weight="normal" fill="#333" stroke="#333" stroke-width="0.12" >200</text>
<text x="450.82" y="540.30" font-size="8.0" text-anchor="middle" font-weight="normal" fill="#333" stroke="#333" stroke-width="0.12" >250</text>
<text x="478.51" y="540.30" font-size="8.0" text-anchor="middle" font-weight="normal" fill="#333" stroke="#333" stroke-width="0.12" >300</text>
<text x="506.19" y="540.30" font-size="8.0" text-anchor="middle" font-weight="normal" fill="#333" stroke="#333" stroke-width="0.12" >350</text>
<text transform="translate(276.60 464.50) rotate(-90) scale(0.7374 1)" x="0" y="0" font-size="8.9" text-anchor="middle" fill="#333" stroke="#333" stroke-width="0.42">EI min</text>
<text transform="translate(407.50 552.80) scale(0.7393 1)" x="0" y="0" font-size="8.9" text-anchor="middle" fill="#333" stroke="#333" stroke-width="0.42">Days between sample collection</text>
<text x="473.90" y="411.30" font-size="7.1" text-anchor="start" font-weight="normal" fill="#333" stroke="#333" stroke-width="0.22" >Sample 1</text>
<text x="473.90" y="422.50" font-size="7.1" text-anchor="start" font-weight="normal" fill="#333" stroke="#333" stroke-width="0.22" >Sample 2</text>
</g>
<rect x="0.5" y="0.5" width="519" height="564" fill="none" stroke="#5a5a5a" stroke-width="1"/>
</svg>
</body></html>
